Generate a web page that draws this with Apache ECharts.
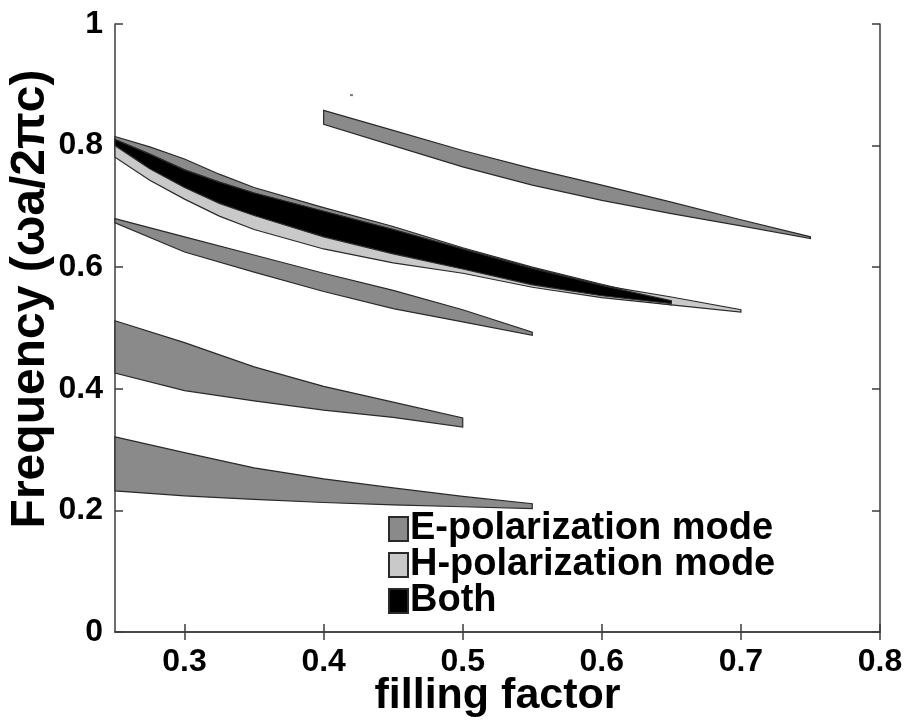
<!DOCTYPE html>
<html>
<head>
<meta charset="utf-8">
<script src="https://cdn.jsdelivr.net/npm/echarts@6/dist/echarts.min.js"></script>
<style>
  html, body { margin: 0; padding: 0; background: #ffffff; }
  #chart { width: 912px; height: 720px; }
</style>
</head>
<body>
<div id="chart"></div>
<script>
// Tick positions
const xTicks = [0.3, 0.4, 0.5, 0.6, 0.7, 0.8];
const yTicks = [0, 0.2, 0.4, 0.6, 0.8, 1];

// Band gaps: filling factor, upper edge, lower edge (frequency ωa/2πc)
// E-polarization gaps
const e1X      = [0.25, 0.30, 0.35, 0.40, 0.45, 0.50, 0.55];
const e1Top    = [0.321, 0.295, 0.270, 0.252, 0.237, 0.223, 0.211];
const e1Bottom = [0.232, 0.224, 0.218, 0.213, 0.209, 0.206, 0.203];

const e2X      = [0.25, 0.30, 0.35, 0.40, 0.45, 0.50];
const e2Top    = [0.512, 0.476, 0.436, 0.404, 0.378, 0.352];
const e2Bottom = [0.426, 0.397, 0.380, 0.365, 0.353, 0.337];

const e3X      = [0.25, 0.30, 0.35, 0.40, 0.45, 0.50, 0.55];
const e3Top    = [0.680, 0.650, 0.620, 0.590, 0.562, 0.530, 0.493];
const e3Bottom = [0.673, 0.625, 0.592, 0.560, 0.532, 0.510, 0.488];

const e4X      = [0.40, 0.45, 0.50, 0.55, 0.60, 0.65, 0.70, 0.75];
const e4Top    = [0.858, 0.825, 0.792, 0.762, 0.735, 0.707, 0.678, 0.650];
const e4Bottom = [0.835, 0.800, 0.765, 0.735, 0.710, 0.688, 0.668, 0.647];

const e5X      = [0.25, 0.275, 0.30, 0.325, 0.35, 0.40, 0.45, 0.50, 0.55, 0.60, 0.65];
const e5Top    = [0.815, 0.798, 0.778, 0.753, 0.731, 0.698, 0.667, 0.632, 0.600, 0.572, 0.545];
const e5Bottom = [0.800, 0.762, 0.731, 0.705, 0.685, 0.650, 0.622, 0.597, 0.571, 0.553, 0.538];

// Isolated E-polarization speck
const eSpecks = [[0.42, 0.883]];

// H-polarization gap
const hX      = [0.25, 0.275, 0.30, 0.325, 0.35, 0.40, 0.45, 0.50, 0.55, 0.60, 0.65, 0.70];
const hTop    = [0.810, 0.786, 0.760, 0.740, 0.722, 0.692, 0.662, 0.630, 0.598, 0.570, 0.551, 0.530];
const hBottom = [0.781, 0.743, 0.712, 0.684, 0.662, 0.630, 0.607, 0.590, 0.567, 0.550, 0.538, 0.526];

// Complete gap (both polarizations)
const bX      = [0.25, 0.275, 0.30, 0.325, 0.35, 0.40, 0.45, 0.50, 0.55, 0.60, 0.65];
const bTop    = [0.810, 0.786, 0.760, 0.740, 0.722, 0.692, 0.662, 0.630, 0.598, 0.570, 0.545];
const bBottom = [0.800, 0.762, 0.731, 0.705, 0.685, 0.650, 0.622, 0.597, 0.571, 0.553, 0.540];

const E_NAME = 'E-polarization mode';
const H_NAME = 'H-polarization mode';
const B_NAME = 'Both';
const E_COLOR = '#8a8a8a';
const H_COLOR = '#c9c9c9';
const B_COLOR = '#000000';
const EDGE = '#2a2a2a';
const FONT = '"Liberation Sans", Arial, Helvetica, sans-serif';

// One filled polygon per gap, closed along the upper then lower edge
function bandSeries(name, xs, tops, bottoms, color, z) {
  const rows = xs.map((x, i) => [x, tops[i], bottoms[i]]);
  return {
    type: 'custom',
    name: name,
    z: z,
    data: rows,
    encode: { x: 0, y: [1, 2] },
    itemStyle: { color: color, borderColor: EDGE, borderWidth: 1 },
    renderItem: function (params, api) {
      if (params.dataIndex !== 0) return null;
      const upper = rows.map(r => api.coord([r[0], r[1]]));
      const lower = rows.slice().reverse().map(r => api.coord([r[0], r[2]]));
      return {
        type: 'polygon',
        shape: { points: upper.concat(lower) },
        style: { fill: color, stroke: EDGE, lineWidth: 1.2 }
      };
    }
  };
}

const axisLineStyle = { color: '#3c3c3c', width: 1.5 };
const tickLabel = { fontSize: 32, fontWeight: 'bold', color: '#000', fontFamily: FONT };

const chart = echarts.init(document.getElementById('chart'), null, { renderer: 'canvas' });
chart.setOption({
  backgroundColor: '#ffffff',
  animation: false,
  grid: { left: 115, right: 32, top: 24, bottom: 88, containLabel: false, outerBoundsMode: 'none' },
  legend: {
    data: [E_NAME, H_NAME, B_NAME],
    orient: 'vertical',
    left: 388,
    top: 510,
    icon: 'rect',
    itemWidth: 19,
    itemHeight: 24,
    itemGap: -2,
    padding: 0,
    textStyle: { fontSize: 38, fontWeight: 'bold', color: '#000', fontFamily: FONT, padding: [0, 0, 0, -3] }
  },
  xAxis: [
    {
      type: 'value', min: 0.25, max: 0.8, position: 'bottom',
      axisLine: { show: true, lineStyle: axisLineStyle },
      axisTick: { show: true, inside: true, length: 8, customValues: xTicks, lineStyle: axisLineStyle },
      axisLabel: Object.assign({ customValues: xTicks, margin: 14, formatter: v => String(+v.toFixed(1)) }, tickLabel),
      splitLine: { show: false },
      name: 'filling factor', nameLocation: 'middle', nameGap: 43, nameMoveOverlap: false,
      nameTextStyle: { fontSize: 43, fontWeight: 'bold', color: '#000', fontFamily: FONT, verticalAlign: 'top' }
    },
    {
      type: 'value', min: 0.25, max: 0.8, position: 'top',
      axisLine: { show: true, lineStyle: axisLineStyle },
      axisTick: { show: true, inside: true, length: 8, customValues: xTicks, lineStyle: axisLineStyle },
      axisLabel: { show: false },
      splitLine: { show: false }
    }
  ],
  yAxis: [
    {
      type: 'value', min: 0, max: 1, interval: 0.2, position: 'left',
      axisLine: { show: true, lineStyle: axisLineStyle },
      axisTick: { show: true, inside: true, length: 8, lineStyle: axisLineStyle },
      axisLabel: Object.assign({ margin: 12, formatter: v => String(+v.toFixed(1)) }, tickLabel),
      splitLine: { show: false },
      name: 'Frequency (ωa/2πc)', nameLocation: 'middle', nameGap: 60, nameMoveOverlap: false,
      nameTextStyle: { fontSize: 48, fontWeight: 'bold', color: '#000', fontFamily: FONT, padding: [0, 0, 0, 58] }
    },
    {
      type: 'value', min: 0, max: 1, interval: 0.2, position: 'right',
      axisLine: { show: true, lineStyle: axisLineStyle },
      axisTick: { show: true, inside: true, length: 8, lineStyle: axisLineStyle },
      axisLabel: { show: false },
      splitLine: { show: false }
    }
  ],
  series: [
    bandSeries(E_NAME, e1X, e1Top, e1Bottom, E_COLOR, 2),
    bandSeries(E_NAME, e2X, e2Top, e2Bottom, E_COLOR, 2),
    bandSeries(E_NAME, e3X, e3Top, e3Bottom, E_COLOR, 2),
    bandSeries(E_NAME, e4X, e4Top, e4Bottom, E_COLOR, 2),
    bandSeries(E_NAME, e5X, e5Top, e5Bottom, E_COLOR, 2),
    bandSeries(H_NAME, hX, hTop, hBottom, H_COLOR, 3),
    bandSeries(B_NAME, bX, bTop, bBottom, B_COLOR, 4),
    {
      type: 'scatter', name: E_NAME, z: 2, data: eSpecks,
      symbol: 'rect', symbolSize: [3, 2], itemStyle: { color: '#555' }
    }
  ]
});
</script>
</body>
</html>
